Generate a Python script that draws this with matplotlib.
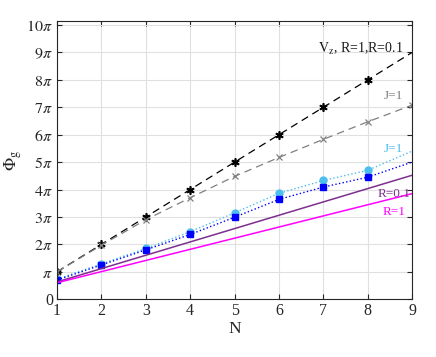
import numpy as np
import matplotlib
matplotlib.use("Agg")
import matplotlib.pyplot as plt

plt.rcParams['font.family'] = ['Liberation Serif', 'DejaVu Serif']
plt.rcParams['mathtext.fontset'] = 'stix'

N = [1, 2, 3, 4, 5, 6, 7, 8, 9]
# values in units of pi
vz = [1, 2, 3, 4, 5, 6, 7, 8, 9]
gray_j1 = [1.0, 1.97, 2.9, 3.7, 4.48, 5.17, 5.83, 6.47, 7.08]
lb_j1 = [0.73, 1.29, 1.85, 2.46, 3.15, 3.86, 4.33, 4.70, 5.4]
blue_sq = [0.70, 1.25, 1.80, 2.36, 2.99, 3.64, 4.09, 4.45, 5.0]
purple_r01 = [0.63, 4.52]
magenta_r1 = [0.60, 3.85]
N_line = [1, 9]

ytick_labels = ['0', r'$\pi$'] + [r'$%d\pi$' % k for k in range(2, 11)]

fig = plt.figure(figsize=(4.36, 3.57), dpi=100)
ax = fig.add_axes([0.131, 0.162, 0.814, 0.780])

pi = np.pi
ax.plot(N, np.array(vz) * pi, color='black', ls=(0, (6, 4)), lw=0.9)
ax.plot(N[:8], np.array(vz[:8]) * pi, ls='none', marker=(6, 2, 0), color='black', ms=6, mew=1.2)
ax.plot(N, np.array(gray_j1) * pi, color='#808080', ls=(0, (6, 4)), lw=0.9,
        marker='x', ms=4, mew=0.9)
ax.plot(N, np.array(lb_j1) * pi, color='#4dbeee', ls=':', lw=1.0)
ax.plot(N[:8], np.array(lb_j1[:8]) * pi, ls='none', marker='o', color='#4dbeee', ms=5)
ax.plot(N, np.array(blue_sq) * pi, color='#0000ff', ls=':', lw=1.0)
ax.plot(N[:8], np.array(blue_sq[:8]) * pi, ls='none', marker='s', color='#0000ff', ms=4)
ax.plot(N_line, np.array(purple_r01) * pi, color='#7e2f8e', lw=1.1)
ax.plot(N_line, np.array(magenta_r1) * pi, color='#ff00ff', lw=1.1)

ax.set_xlim(1, 9)
ax.set_ylim(0, 10.16 * pi)
ax.set_xticks(N)
ax.set_yticks(np.arange(0, 11) * pi)
ax.set_yticklabels(ytick_labels)
ax.tick_params(direction='in', top=True, right=True, labelsize=11.5, colors='#262626',
               length=3.5, width=0.8, pad=3)
for lab in ax.get_xticklabels() + ax.get_yticklabels():
    lab.set_color('#262626')
ax.grid(True, color='#e0e0e0', lw=0.8)
ax.set_axisbelow(True)
for s in ax.spines.values():
    s.set_color('#262626')
    s.set_linewidth(0.8)

ax.set_xlabel('N', fontsize=12.5, color='#262626', labelpad=1)
ax.set_ylabel(r'$\mathrm{\Phi}_\mathrm{g}$', fontsize=12.5, color='#262626')
ax.yaxis.set_label_coords(-0.092, 0.5)

ax.text(8.8, 8.98 * pi, r'$\mathrm{V_z}$, R=1,R=0.1', ha='right', va='baseline', fontsize=10, color='#1a1a1a')
ax.text(8.8, 7.3 * pi, 'J=1', ha='right', va='baseline', fontsize=9.5, color='#808080')
ax.text(8.8, 5.38 * pi, 'J=1', ha='right', va='baseline', fontsize=9.5, color='#4dbeee')
ax.text(8.96, 3.74 * pi, 'R=0.1', ha='right', va='baseline', fontsize=9.5, color='#7e2f8e')
ax.text(8.86, 3.07 * pi, 'R=1', ha='right', va='baseline', fontsize=9.5, color='#ff00ff')

fig.savefig('out.png', dpi=100)
